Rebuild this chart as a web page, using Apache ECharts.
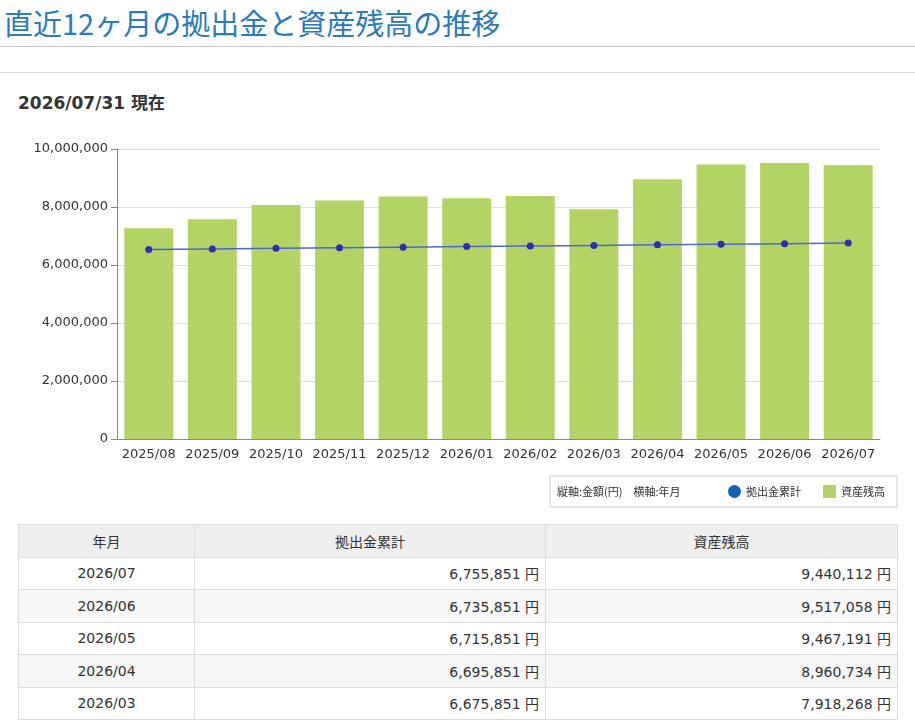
<!DOCTYPE html>
<html>
<head>
<meta charset="utf-8">
<script src="https://cdn.jsdelivr.net/npm/echarts@6/dist/echarts.min.js"></script>
<style>
  body { margin: 0; background: #fff; font-family: "DejaVu Sans", "Noto Sans CJK JP", sans-serif; color: #333; width: 915px; height: 720px; overflow: hidden; position: relative; }
  #ttl { position: absolute; left: 4px; top: 2px; font-size: 29px; color: #2b7bb9; white-space: nowrap; line-height: 40px; font-family: "Noto Sans CJK JP", sans-serif; }
  .hr1 { position: absolute; left: 0; top: 46px; width: 915px; height: 1px; background: #c8c8c8; }
  .hr2 { position: absolute; left: 0; top: 72px; width: 915px; height: 1px; background: #dcdcdc; }
  #dt { position: absolute; left: 18px; top: 90px; font-size: 17px; font-weight: bold; color: #333; line-height: 26px; }
  #chart { position: absolute; left: 0; top: 130px; width: 915px; height: 390px; }
  table { position: absolute; left: 18px; top: 524px; width: 880px; border-collapse: collapse; font-size: 14px; color: #333; }
  td, th { border: 1px solid #dcdcdc; height: 31.5px; padding: 0 6px; font-weight: normal; font-family: "DejaVu Sans", "Noto Sans CJK JP", sans-serif; }
  th { background: #efefef; text-align: center; font-family: "Noto Sans CJK JP", sans-serif; font-size: 14px; }
  td.c { text-align: center; }
  td.r { text-align: right; }
  tr.alt td { background: #f7f7f7; }
</style>
</head>
<body>
<div id="ttl">直近12ヶ月の拠出金と資産残高の推移</div>
<div class="hr1"></div>
<div class="hr2"></div>
<div id="dt">2026/07/31 現在</div>
<div id="chart"></div>
<table id="tbl"></table>
<script>
var months = ["2025/08", "2025/09", "2025/10", "2025/11", "2025/12", "2026/01",
  "2026/02", "2026/03", "2026/04", "2026/05", "2026/06", "2026/07"];
// 拠出金累計
var contrib = [6535851, 6555851, 6575851, 6595851, 6615851, 6635851,
  6655851, 6675851, 6695851, 6715851, 6735851, 6755851];
// 資産残高
var balance = [7270000, 7580000, 8070000, 8220000, 8360000, 8300000,
  8380000, 7918268, 8960734, 9467191, 9517058, 9440112];

function fmt(n) {
  return String(n).replace(/\B(?=(\d{3})+(?!\d))/g, ",");
}

//表（新しい月から5行）
var html = "<tr><th style='width:163px'>年月</th><th style='width:338px'>拠出金累計</th><th>資産残高</th></tr>";
for (var i = months.length - 1, k = 0; k < 5; i--, k++) {
  html += "<tr" + (k % 2 == 1 ? " class='alt'" : "") + "><td class='c'>" + months[i] +
    "</td><td class='r'>" + fmt(contrib[i]) + " 円</td><td class='r'>" + fmt(balance[i]) + " 円</td></tr>";
}
document.getElementById("tbl").innerHTML = html;

var myChart = echarts.init(document.getElementById("chart"));
var font = "DejaVu Sans";
var jfont = "Noto Sans CJK JP";
var option = {
  animation: false,
  textStyle: { fontFamily: font },
  grid: { left: 117, right: 35, top: 19, bottom: 81 },
  legend: {
    right: 18,
    top: 346,
    padding: [9, 12, 9, 178],
    borderColor: "#cfcfcf",
    borderWidth: 1,
    itemGap: 22,
    itemWidth: 13,
    itemHeight: 13,
    textStyle: { fontSize: 11, color: "#333", fontFamily: jfont },
    data: [
      { name: "拠出金累計", icon: "circle", itemStyle: { color: "#1461b4" } },
      { name: "資産残高", icon: "rect", itemStyle: { color: "#b3d465" } }
    ]
  },
  graphic: [{
    type: "text",
    left: 557,
    top: 356,
    style: { text: "縦軸:金額(円)　横軸:年月", fontSize: 11, fill: "#333", fontFamily: jfont }
  }],
  xAxis: {
    type: "category",
    data: months,
    axisLine: { lineStyle: { color: "#888" } },
    axisTick: { show: false },
    axisLabel: { color: "#333", fontSize: 13, margin: 9, interval: 0, fontFamily: font }
  },
  yAxis: {
    type: "value",
    min: 0,
    max: 10000000,
    interval: 2000000,
    axisLine: { show: true, lineStyle: { color: "#888" } },
    axisTick: { show: true, length: 6, lineStyle: { color: "#888" } },
    splitLine: { lineStyle: { color: "#dedede" } },
    axisLabel: { color: "#333", fontSize: 13, margin: 9, fontFamily: font, formatter: function (v) { return fmt(v); } }
  },
  series: [
    {
      type: "bar",
      name: "資産残高",
      data: balance,
      barCategoryGap: "23%",
      itemStyle: { color: "#b3d465" }
    },
    {
      type: "line",
      name: "拠出金累計",
      data: contrib,
      symbol: "circle",
      symbolSize: 7,
      lineStyle: { color: "#4a68d6", width: 1.5 },
      itemStyle: { color: "#2d2db0" }
    }
  ]
};
myChart.setOption(option);
</script>
</body>
</html>
